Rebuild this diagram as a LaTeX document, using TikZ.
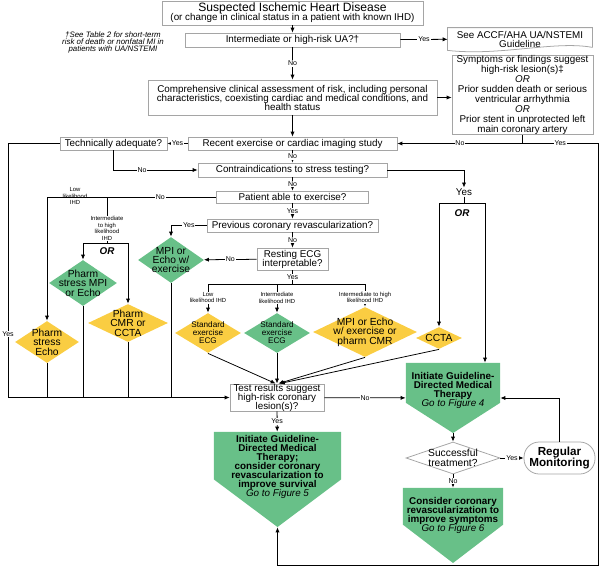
\documentclass[tikz,border=0pt]{standalone}
\usepackage{fontspec}
\setmainfont{Liberation Sans}
\usetikzlibrary{shapes.geometric,arrows.meta,calc}
\definecolor{gdgreen}{RGB}{104,192,136}
\definecolor{gdyellow}{RGB}{250,205,66}
\definecolor{boxgray}{RGB}{165,165,165}
\lineskiplimit=-5pt

\begin{document}
\begin{tikzpicture}[x=0.025cm,y=-0.025cm,
	box/.style={ draw=boxgray, fill=white, align=center, inner sep=0pt, font=\fontsize{7}{6.4}\selectfont },
	lbl/.style={ fill=white, inner sep=0.6pt, font=\fontsize{5}{5}\selectfont },
	tiny/.style={ align=center, inner sep=0.5pt, font=\fontsize{4.2}{4.6}\selectfont },
	orlbl/.style={ inner sep=0pt, font=\fontsize{7}{7}\selectfont\bfseries\itshape },
	ydiam/.style={ diamond, fill=gdyellow, inner sep=0pt },
	gdiam/.style={ diamond, fill=gdgreen, inner sep=0pt },
	dtext/.style={ align=center, inner sep=0pt, font=\fontsize{7.3}{6.7}\selectfont },
	stext/.style={ align=center, inner sep=0pt, font=\fontsize{5.8}{5.7}\selectfont },
	ptext/.style={ align=center, inner sep=0pt, font=\fontsize{7}{6.4}\selectfont\bfseries },
	penta/.style={ inner sep=0pt, path picture={
		\fill[gdgreen] (path picture bounding box.north west) -- (path picture bounding box.north east)
		-- ($(path picture bounding box.north east)!#1!(path picture bounding box.south east)$)
		-- (path picture bounding box.south)
		-- ($(path picture bounding box.north west)!#1!(path picture bounding box.south west)$) -- cycle; } },
	arr/.style={ -{Latex[length=3.5pt,width=3pt]} },
	every path/.style={ line width=0.55pt }
]
\useasboundingbox (0,0) rectangle (600,567);

% top of the chart
\node at (292.5,13) (title) [box, minimum width=6.525cm, minimum height=0.6cm] {{\fontsize{8.6}{7}\selectfont Suspected Ischemic Heart Disease}\\(or change in clinical status in a patient with known IHD)};
\node at (292.5,40) (ua) [box, minimum width=5.375cm, minimum height=0.35cm] {Intermediate or high-risk UA?†};
\node at (520,39) (guide) [align=center, inner sep=0pt, minimum width=3.6cm, minimum height=0.55cm, font=\fontsize{7}{6.4}\selectfont] {See ACCF/AHA UA/NSTEMI\\Guideline};
\draw[boxgray] ($(guide.south east)+(0,-3)$) -- (guide.north east) -- (guide.north west) -- (guide.south west)
  .. controls ($(guide.south)+(-20,6)$) and ($(guide.south)+(35,-10)$) .. ($(guide.south east)+(0,-3)$);
\node at (113,42) (foot) [align=center, inner sep=0pt, font=\fontsize{5.6}{5}\selectfont\itshape] {†See Table 2 for short-term\\risk of death or nonfatal MI in\\patients with UA/NSTEMI};
\node at (292.5,97.5) (comp) [box, minimum width=7.225cm, minimum height=0.875cm] {Comprehensive clinical assessment of risk, including personal\\characteristics, coexisting cardiac and medical conditions, and\\health status};
\node at (522.5,95) (symp) [box, minimum width=3.525cm, minimum height=1.9cm, font=\fontsize{7}{7.1}\selectfont] {Symptoms or findings suggest\\high-risk lesion(s)‡\\\textit{OR}\\Prior sudden death or serious\\ventricular arrhythmia\\\textit{OR}\\Prior stent in unprotected left\\main coronary artery};

% question column
\node at (292.5,143.5) (recent) [box, minimum width=5.225cm, minimum height=0.325cm] {Recent exercise or cardiac imaging study};
\node at (113.5,143.5) (tech) [box, minimum width=2.675cm, minimum height=0.325cm] {Technically adequate?};
\node at (292.5,170) (contra) [box, minimum width=4.725cm, minimum height=0.35cm] {Contraindications to stress testing?};
\node at (292.5,197) (able) [box, minimum width=3.8cm, minimum height=0.3cm] {Patient able to exercise?};
\node at (292.5,225.5) (prev) [box, minimum width=4.275cm, minimum height=0.325cm] {Previous coronary revascularization?};
\node at (292.5,259) (ecg) [box, minimum width=1.775cm, minimum height=0.55cm] {Resting ECG\\interpretable?};
\node at (277,397.5) (test) [box, minimum width=2.35cm, minimum height=0.675cm] {Test results suggest\\high-risk coronary\\lesion(s)?};

% tests
\node at (83,283) (pmpi) [gdiam, minimum width=1.7cm, minimum height=1.15cm, label={[dtext]center:Pharm\\stress MPI\\or Echo}] {};
\node at (47,342) (pecho) [ydiam, minimum width=1.6cm, minimum height=1.05cm, label={[dtext]center:Pharm\\stress\\Echo}] {};
\node at (128,323) (pcmr) [ydiam, minimum width=2cm, minimum height=0.95cm, label={[dtext]center:Pharm\\CMR or\\CCTA}] {};
\node at (171,260) (mpiex) [gdiam, minimum width=1.65cm, minimum height=1.15cm, label={[dtext]center:MPI or\\Echo w/\\exercise}] {};
\node at (208,333) (secgl) [ydiam, minimum width=1.65cm, minimum height=1cm, label={[stext]center:Standard\\exercise\\ECG}] {};
\node at (277,333) (secgi) [gdiam, minimum width=1.65cm, minimum height=1cm, label={[stext]center:Standard\\exercise\\ECG}] {};
\node at (365,332) (mpiph) [ydiam, minimum width=2.6cm, minimum height=1.25cm, label={[dtext]center:MPI or Echo\\w/ exercise or\\pharm CMR}] {};
\node at (439,338) (ccta) [ydiam, minimum width=1.15cm, minimum height=0.55cm, label={[dtext]center:CCTA}] {};

% therapy
\node at (453,398) (gdmt) [penta=0.57, minimum width=2.35cm, minimum height=1.75cm, label={[ptext,yshift=0.2cm]center:Initiate Guideline-\\Directed Medical\\Therapy\\{\mdseries\itshape Go to Figure 4}}] {};
\node at (277.5,479.5) (bigp) [penta=0.5, minimum width=3.175cm, minimum height=2.375cm, label={[ptext,yshift=0.31cm]center:Initiate Guideline-\\Directed Medical\\Therapy;\\consider coronary\\revascularization to\\improve survival\\{\mdseries\itshape Go to Figure 5}}] {};
\node at (453,458) (succ) [diamond, draw=boxgray, fill=white, inner sep=0pt, minimum width=2.35cm, minimum height=0.8cm, label={[dtext]center:Successful\\treatment?}] {};
\node at (559.5,458) (regmon) [draw=boxgray, fill=white, rounded corners=0.38cm, minimum width=1.775cm, minimum height=0.8cm, inner sep=0pt, align=center, font=\fontsize{8.3}{7.8}\selectfont\bfseries] {Regular\\Monitoring};
\node at (453,525.5) (consid) [penta=0.49, minimum width=2.5cm, minimum height=1.875cm, label={[ptext,yshift=0.24cm]center:Consider coronary\\revascularization to\\improve symptoms\\{\mdseries\itshape Go to Figure 6}}] {};

\coordinate (sjoin) at (522.5,143.5);
\coordinate (rtop) at (598,143.5);
\coordinate (rbot) at (598,565);
\coordinate (lcorner) at (8,143.5);
\coordinate (orl) at (439,203);
\coordinate (orr) at (485,203);
\coordinate (lowc) at (47,197);
\coordinate (intj) at (107,197);
\coordinate (orl2) at (83,243);
\coordinate (orr2) at (128,243);
\coordinate (ecgj) at (292.5,284);
\coordinate (ecgl) at (208,284);
\coordinate (ecgr) at (365,284);

\draw[arr] (title) -- (ua);
\draw[arr] (ua) to node[lbl] {Yes} (guide);
\draw[arr] (ua) to node[lbl] {No} (comp);
\draw[arr] (comp.east) -- (comp.east -| symp.west);
\draw[arr] (comp) -- (recent);
\draw (symp) -- (sjoin);
\draw[arr] (sjoin) to node[lbl] {No} (recent);
\draw[arr] (sjoin) to node[lbl] {Yes} (rtop) -- (rbot) -| (bigp.south);
\draw[arr] (recent) to node[lbl] {Yes} (tech);
\draw[arr] (recent) to node[lbl] {No} (contra);
\draw[arr] (tech) -- (lcorner) -- node[lbl,pos=0.75] {Yes} (lcorner |- test) -- (test);
\draw[arr] (tech) |- node[lbl,pos=0.67] {No} (contra);

\node at (464,192) (yesor) [inner sep=0.5pt, font=\fontsize{7}{7}\selectfont] {Yes};
\draw[arr] (contra) -| (yesor.north);
\draw (yesor) -- (yesor |- orl);
\draw (orl) -- (orr);
\draw[arr] (orl) -- (ccta);
\draw[arr] (orr) -- (orr |- gdmt.north);
\node at (462,213) (or1) [orlbl] {OR};

\draw[arr] (contra) to node[lbl] {No} (able);
\draw[arr] (able) to node[lbl,pos=0.33] {No} (lowc) -- (pecho);
\node at (75,196) (lowlab) [tiny] {Low\\likelihood\\IHD};
\draw (intj) -- node[tiny,fill=white,pos=0.68] {Intermediate\\to high\\likelihood\\IHD} (intj |- orl2);
\draw (orl2) -- (orr2);
\draw[arr] (orl2) -- (pmpi);
\draw[arr] (orr2) -- (pcmr);
\node at (107,251) (or2) [orlbl] {OR};

\draw[arr] (able) to node[lbl] {Yes} (prev);
\draw[arr] (prev) -| node[lbl,pos=0.25] {Yes} (mpiex);
\draw[arr] (prev) to node[lbl] {No} (ecg);
\draw[arr] (ecg) to node[lbl] {No} (mpiex);
\draw (ecg) to node[lbl] {Yes} (ecgj);
\draw (ecgl) -- (ecgr);
\draw[arr] (ecgl) -- node[tiny,fill=white,pos=0.48] {Low\\likelihood IHD} (secgl);
\draw[arr] (secgi |- ecgl) -- node[tiny,fill=white,pos=0.48] {Intermediate\\likelihood IHD} (secgi);
\draw[arr] (ecgr) -- node[tiny,fill=white,pos=0.6] {Intermediate to high\\likelihood IHD} (mpiph);

\draw[arr] (secgl.south) -- ([xshift=-1pt]test.north);
\draw[arr] (secgi) -- (test);
\draw[arr] (mpiph.south) -- ([xshift=1pt]test.north);
\draw[arr] (ccta.south) -- ([xshift=2pt]test.north);
\draw (pecho) -- (pecho |- test);
\draw (pmpi) -- (pmpi |- test);
\draw (pcmr) -- (pcmr |- test);
\draw (mpiex) -- (mpiex |- test);

\draw[arr] (test) to node[lbl] {No} (gdmt);
\draw[arr] (test) to node[lbl] {Yes} (bigp);
\draw[arr] (gdmt) -- (succ);
\draw[arr] (succ) to node[lbl] {Yes} (regmon);
\draw[arr] (succ) to node[lbl] {No} (consid);
\draw[arr] (regmon) |- (gdmt);

\end{tikzpicture}
\end{document}
